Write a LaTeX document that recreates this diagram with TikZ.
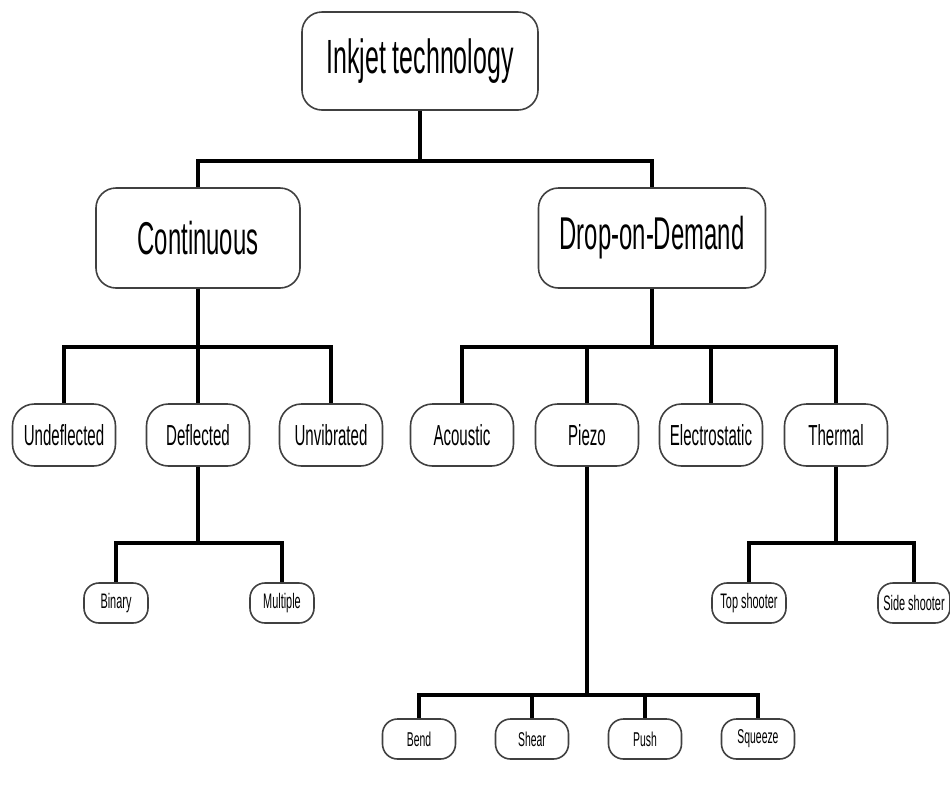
\documentclass[tikz,border=0pt]{standalone}
\usepackage{fontspec}
\setmainfont[FakeStretch=0.52]{Liberation Sans}
\usetikzlibrary{positioning}

\begin{document}
\begin{tikzpicture}[
        x=0.5pt, y=-0.5pt,
        box/.style={draw=black!75, line width=0.8pt, rectangle, align=center, inner sep=2pt},
        bigbox/.style={box, rounded corners=10pt, minimum height=50pt, font=\fontsize{23}{27}\selectfont},
        midbox/.style={box, rounded corners=11pt, minimum width=51.5pt, minimum height=31pt, font=\fontsize{14.5}{17}\selectfont},
        smallbox/.style={box, rounded corners=7.5pt, minimum height=20pt, font=\fontsize{10.5}{12}\selectfont},
        link/.style={line width=2pt, black}
    ]
        \useasboundingbox (0,0) rectangle (950,794);

        % Root
        \node[bigbox, minimum width=118pt, minimum height=49pt, font=\fontsize{24}{28}\selectfont] (inkjet) at (420,61) {Inkjet technology};

        % Second level
        \node[bigbox, minimum width=102pt] (cont) at (198,238) {Continuous};
        \node[bigbox, minimum width=113.5pt] (dod) at (652,238) {Drop-on-Demand};

        \draw[link] (inkjet.south) -- ++(0,50) -| (cont.north);
        \draw[link] (inkjet.south) -- ++(0,50) -| (dod.north);

        % Continuous branch
        \node[midbox] (undefl) at (64,435) {Undeflected};
        \node[midbox] (defl) at (198,435) {Deflected};
        \node[midbox] (unvib) at (331,435) {Unvibrated};

        \draw[link] (cont.south) -- ++(0,58) -| (undefl.north);
        \draw[link] (cont.south) -- ++(0,58) -| (unvib.north);
        \draw[link] (cont.south) -- (defl.north);

        \node[smallbox, minimum width=32pt] (binary) at (116,603) {Binary};
        \node[smallbox, minimum width=32pt] (multiple) at (282,603) {Multiple};

        \draw[link] (defl.south) -- ++(0,76) -| (binary.north);
        \draw[link] (defl.south) -- ++(0,76) -| (multiple.north);

        % Drop-on-Demand branch
        \node[midbox] (acoustic) at (462,435) {Acoustic};
        \node[midbox] (piezo) at (587,435) {Piezo};
        \node[midbox] (electro) at (711,435) {Electrostatic};
        \node[midbox] (thermal) at (836,435) {Thermal};

        \draw[link] (dod.south) -- ++(0,58) -| (acoustic.north);
        \draw[link] (dod.south) -- ++(0,58) -| (piezo.north);
        \draw[link] (dod.south) -- ++(0,58) -| (thermal.north);
        \draw[link] (dod.south) -- ++(0,58) -| (electro.north);

        \node[smallbox, minimum width=37pt] (topshoot) at (749,603) {Top shooter};
        \node[smallbox, minimum width=36pt] (sideshoot) at (914,603) {Side shooter};

        \draw[link] (thermal.south) -- ++(0,76) -| (topshoot.north);
        \draw[link] (thermal.south) -- ++(0,76) -| (sideshoot.north);

        \node[smallbox, minimum width=36.5pt, font=\fontsize{10}{12}\selectfont] (bend) at (419,739) {Bend};
        \node[smallbox, minimum width=36.5pt, font=\fontsize{10}{12}\selectfont] (shear) at (532,739) {Shear};
        \node[smallbox, minimum width=36.5pt, font=\fontsize{10}{12}\selectfont] (push) at (645,739) {Push};
        \node[smallbox, minimum width=36.5pt, font=\fontsize{10}{12}\selectfont] (squeeze) at (758,739) {Squeeze};

        \draw[link] (piezo.south) -- ++(0,228) -| (bend.north);
        \draw[link] (piezo.south) -- ++(0,228) -| (shear.north);
        \draw[link] (piezo.south) -- ++(0,228) -| (push.north);
        \draw[link] (piezo.south) -- ++(0,228) -| (squeeze.north);
    \end{tikzpicture}
\end{document}
